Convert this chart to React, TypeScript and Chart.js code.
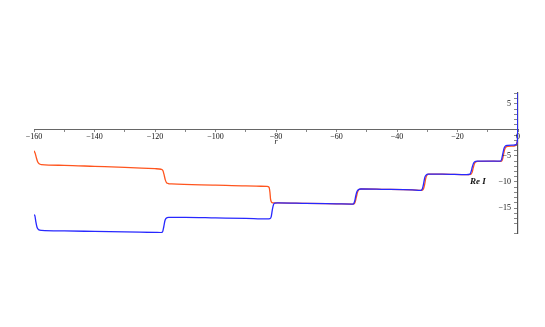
import React, { useEffect, useRef } from "react";
import { Chart, registerables } from "chart.js";

Chart.register(...registerables);

// Orange series (x = r, y = Re I)
const orangeX = [
  -160, -159.6, -159.2, -158.8, -158.3, -157.5, -150, -140, -130, -120, -118,
  -117.4, -117.0, -116.6, -116.2, -115.6, -114.5, -100, -90, -83, -82.3, -82.0,
  -81.8, -81.5, -81.0, -80, -70, -60, -55, -54.2, -53.8, -53.4, -53.0, -52.5,
  -51.8, -45, -35, -31.8, -31.3, -30.9, -30.5, -30.1, -29.5, -25, -17, -15.6,
  -15.2, -14.8, -14.4, -14.0, -13.3, -8, -5.6, -5.2, -4.8, -4.4, -4.0, -3.4,
  -1.5, -0.8, -0.4, -0.1, 0,
];
const orangeY = [
  -4.0, -4.5, -5.4, -6.1, -6.5, -6.65, -6.8, -7.0, -7.2, -7.45, -7.55,
  -7.8, -8.6, -9.6, -10.1, -10.3, -10.38, -10.6, -10.75, -10.85, -11.0, -12.0,
  -13.3, -13.85, -14.0, -14.02, -14.1, -14.2, -14.25, -14.2, -13.8, -12.8, -11.9, -11.45,
  -11.35, -11.4, -11.5, -11.6, -11.4, -10.6, -9.3, -8.7, -8.5, -8.5, -8.6, -8.55,
  -8.2, -7.3, -6.5, -6.15, -6.05, -6.0, -6.05, -5.8, -4.8, -3.7, -3.3, -3.15,
  -3.1, -3.0, -2.6, -1.8, -1.2,
];

// Blue series
const blueX = [
  -160, -159.7, -159.4, -159.0, -158.5, -157.5, -150, -140, -130, -120, -118,
  -117.5, -117.1, -116.7, -116.3, -115.5, -110, -100, -90, -83, -82, -81.6,
  -81.2, -80.8, -80.3, -79.5, -70, -60, -55, -54.4, -54.0, -53.6, -53.2, -52.7,
  -52, -45, -35, -32.1, -31.6, -31.2, -30.8, -30.4, -29.7, -25, -17, -15.9,
  -15.5, -15.1, -14.7, -14.3, -13.5, -8, -5.8, -5.4, -5.0, -4.6, -4.2, -3.5,
  -1.5, -0.6, -0.25, -0.1, -0.03,
];
const blueY = [
  -16.3, -16.5, -17.6, -18.7, -19.15, -19.3, -19.4, -19.5, -19.6, -19.7, -19.72,
  -19.6, -18.6, -17.4, -16.95, -16.8, -16.8, -16.9, -17.0, -17.1, -17.05, -16.7,
  -15.3, -14.3, -14.05, -14.0, -14.1, -14.2, -14.25, -14.2, -13.7, -12.6, -11.8, -11.45,
  -11.35, -11.4, -11.5, -11.6, -11.3, -10.3, -9.1, -8.7, -8.5, -8.5, -8.6, -8.5,
  -8.0, -7.1, -6.4, -6.1, -6.0, -6.0, -6.0, -5.6, -4.5, -3.5, -3.1, -2.95,
  -2.9, -2.8, -2.3, 0, 8,
];

const xMin = -160;
const xMax = 0;
const yMin = -19.8;
const yMax = 7.1;
const xLabelStep = 20;
const yTickLabels = [5, -5, -10, -15];
const xTitle = "r";
const yTitle = "Re I";

const fmt = (v: number) => (v < 0 ? "\u2212" + Math.abs(v) : String(v));

export default function App() {
  const ref = useRef<HTMLCanvasElement | null>(null);
  useEffect(() => {
    const canvas = ref.current;
    if (!canvas) return;
    const titles = {
      id: "axisTitles",
      afterDatasetsDraw(chart: any) {
        const { ctx, scales } = chart;
        const xs = scales.x;
        const ys = scales.y;
        ctx.save();
        ctx.fillStyle = "#111";
        ctx.textBaseline = "middle";
        // y tick labels, right-aligned left of the axis
        ctx.font = '8px "Liberation Serif"';
        ctx.textAlign = "right";
        const ax = xs.getPixelForValue(0);
        yTickLabels.forEach((v) => {
          ctx.fillText(fmt(v), ax - 7, ys.getPixelForValue(v));
        });
        ctx.textAlign = "center";
        ctx.font = 'italic 8px "Liberation Serif"';
        ctx.fillText(xTitle, xs.getPixelForValue(-80), ys.getPixelForValue(0) + 12);
        ctx.font = 'bold italic 9px "Liberation Serif"';
        ctx.fillText(yTitle, xs.getPixelForValue(-13.3), ys.getPixelForValue(-10));
        ctx.restore();
      },
    };
    const chart = new Chart(canvas, {
      type: "line",
      data: {
        datasets: [
          {
            label: "blue",
            data: blueX.map((x, i) => ({ x, y: blueY[i] })),
            borderColor: "rgb(40,40,255)",
            borderWidth: 1.3,
            pointRadius: 0,
            cubicInterpolationMode: "monotone",
            fill: false,
          },
          {
            label: "orange",
            data: orangeX.map((x, i) => ({ x, y: orangeY[i] })),
            borderColor: "rgb(255,85,30)",
            borderWidth: 1.3,
            pointRadius: 0,
            cubicInterpolationMode: "monotone",
            fill: false,
          },
        ],
      },
      options: {
        responsive: false,
        animation: false,
        devicePixelRatio: 1,
        layout: { padding: { left: 34, right: 27, top: 93, bottom: 94 } },
        plugins: { legend: { display: false }, tooltip: { enabled: false } },
        scales: {
          x: {
            type: "linear",
            min: xMin,
            max: xMax,
            position: { y: 0 } as any,
            ticks: {
              stepSize: 10,
              autoSkip: false,
              maxRotation: 0,
              padding: 0,
              color: "#111",
              font: { family: "Liberation Serif", size: 8 },
              callback: (v: any) => (Number(v) % xLabelStep === 0 ? fmt(Number(v)) : ""),
            },
            grid: { drawOnChartArea: false, drawTicks: true, tickLength: 2, color: "#888" },
            border: { color: "#666", width: 1 },
          },
          y: {
            type: "linear",
            min: yMin,
            max: yMax,
            position: { x: 0 } as any,
            ticks: {
              stepSize: 1,
              autoSkip: false,
              padding: 4,
              color: "#111",
              font: { family: "Liberation Serif", size: 8 },
              callback: () => "",
            },
            grid: { drawOnChartArea: false, drawTicks: true, tickLength: 3, color: "#888" },
            border: { color: "#555", width: 1.2 },
          },
        },
      },
      plugins: [titles],
    });
    return () => chart.destroy();
  }, []);
  return (
    <div style={{ position: "absolute", left: 0, top: 0, width: 545, height: 327, background: "#fff" }}>
      <canvas ref={ref} width={545} height={327} />
    </div>
  );
}
